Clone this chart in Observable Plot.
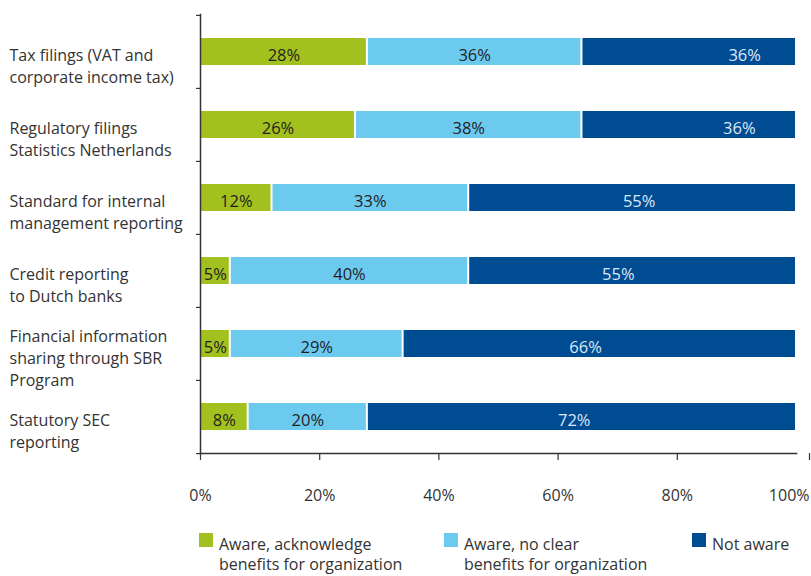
<!DOCTYPE html>
<html>
<head>
<meta charset="utf-8">
<script src="https://cdn.jsdelivr.net/npm/d3@7"></script>
<script src="https://cdn.jsdelivr.net/npm/@observablehq/plot@0.6"></script>
<style>
  html, body { margin: 0; padding: 0; background: #fff; }
  #wrap { position: relative; width: 811px; height: 576px; overflow: hidden; font-family: "Open Sans", sans-serif; }
  #chart svg { display: block; }
  .lg { position: absolute; font-size: 16px; line-height: 20px; color: #333; }
  .sw { position: absolute; width: 14px; height: 14px; }
</style>
</head>
<body>
<div id="wrap">
  <div id="chart"></div>
  <div id="legend"></div>
</div>
<script>
const categories = [
  "Tax filings (VAT and\ncorporate income tax)",
  "Regulatory filings\nStatistics Netherlands",
  "Standard for internal\nmanagement reporting",
  "Credit reporting\nto Dutch banks",
  "Financial information\nsharing through SBR\nProgram",
  "Statutory SEC\nreporting"
];
const seriesNames = [
  "Aware, acknowledge benefits for organization",
  "Aware, no clear benefits for organization",
  "Not aware"
];
const awareBenefits   = [28, 26, 12, 5, 5, 8];
const awareNoBenefits = [36, 38, 33, 40, 29, 20];
const notAware        = [36, 36, 55, 55, 66, 72];
// where the "Not aware" value label sits (in % along the axis)
const notAwareLabelAt = [91.3, 90.4, 73.6, 70.1, 64.6, 62.7];
const xTicks = [0, 20, 40, 60, 80, 100];
const colors = ["#a3c11e", "#6dcaef", "#004c93"];

const seriesValues = [awareBenefits, awareNoBenefits, notAware];
const data = [];
categories.forEach((c, i) => {
  seriesNames.forEach((s, j) => {
    data.push({category: c, series: s, value: seriesValues[j][i], idx: i});
  });
});
const darkRows = categories.map((c, i) => ({category: c, value: notAware[i], at: notAwareLabelAt[i]}));

const W = 811, H = 515, mt = 14, mb = 62, ml = 200, mr = 15;
const step = (H - mt - mb) / categories.length;
const pI = 0.632;
const fmtPct = d => d + "%";

const chart = Plot.plot({
  width: W, height: H,
  marginTop: mt, marginBottom: mb, marginLeft: ml, marginRight: mr,
  style: {fontFamily: "'Open Sans', sans-serif", fontSize: "16px", color: "#333", overflow: "visible"},
  x: {domain: [0, 100]},
  y: {domain: categories, paddingInner: pI, paddingOuter: pI / 2},
  color: {domain: seriesNames, range: colors},
  marks: [
    Plot.barX(data, Plot.stackX({x: "value", y: "category", fill: "series", insetLeft: 1, insetRight: 1})),
    Plot.text(data, Plot.stackX({
      filter: d => d.series !== "Not aware",
      x: "value", y: "category", z: "series",
      text: d => d.value + "%", fill: "#1f1f1f", fontSize: 16.5, dy: 4
    })),
    Plot.text(darkRows, {x: "at", y: "category", text: d => d.value + "%", fill: "#dbe8f6", fontSize: 16.5, dy: 4}),
    // axis lines
    Plot.frame({anchor: "left", stroke: "#333", strokeWidth: 1.5}),
    Plot.frame({anchor: "bottom", stroke: "#333", strokeWidth: 1.5}),
    // category boundary ticks on the y axis
    Plot.ruleY(categories, {y: d => d, x1: 0, x2: 0, insetLeft: -4, dy: -step / 2, stroke: "#333", strokeWidth: 1.2}),
    Plot.ruleY(categories.slice(-1), {y: d => d, x1: 0, x2: 0, insetLeft: -4, dy: step / 2, stroke: "#333", strokeWidth: 1.2}),
    Plot.axisX({ticks: xTicks.slice(0, -1), tickFormat: fmtPct, tickSize: 7, tickPadding: 29, stroke: "#333", strokeWidth: 1.2, fill: "#333", fontSize: 16, label: null}),
    Plot.axisX({ticks: xTicks.slice(-1), tickFormat: fmtPct, tickSize: 7, tickPadding: 29, textAnchor: "end", dx: 13, stroke: "#333", strokeWidth: 1.2, fill: "#333", fontSize: 16, label: null}),
    Plot.axisY({tickSize: 0, tickPadding: 0, textAnchor: "start", dx: -191, dy: 13, fill: "#333", fontSize: 16, label: null, lineHeight: 1.35})
  ]
});
document.getElementById("chart").appendChild(chart);

// legend
const legend = document.getElementById("legend");
const legendLines = [
  ["Aware, acknowledge", "benefits for organization"],
  ["Aware, no clear", "benefits for organization"],
  ["Not aware"]
];
const swX = [199, 444, 692];
legendLines.forEach((lines, j) => {
  const sw = document.createElement("div");
  sw.className = "sw";
  sw.style.left = swX[j] + "px";
  sw.style.top = "533px";
  sw.style.background = colors[j];
  legend.appendChild(sw);
  const t = document.createElement("div");
  t.className = "lg";
  t.style.left = (swX[j] + 20) + "px";
  t.style.top = "534px";
  t.innerHTML = lines.join("<br>");
  legend.appendChild(t);
});
</script>
</body>
</html>
